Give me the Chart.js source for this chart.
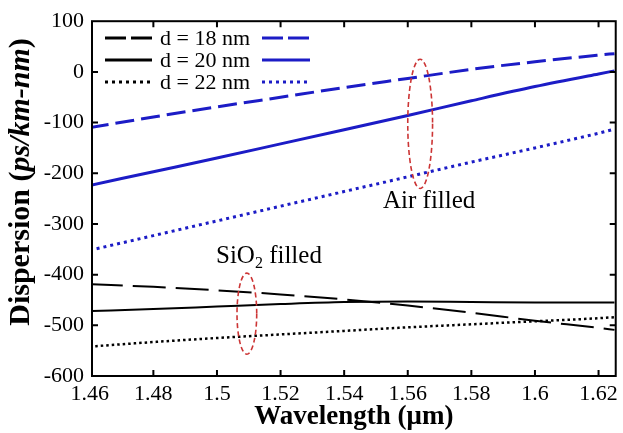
<!DOCTYPE html>
<html>
<head>
<meta charset="utf-8">
<script src="https://cdn.jsdelivr.net/npm/chart.js@4.4.1/dist/chart.umd.min.js"></script>
<style>
html,body{margin:0;padding:0;background:#fff;}
canvas{display:block;}
</style>
</head>
<body>
<canvas id="c" width="623" height="433"></canvas>
<script>
// ---- data ----
const wavelengths = [1.46, 1.48, 1.50, 1.52, 1.54, 1.56, 1.58, 1.60, 1.62, 1.625];
const air18 = [-110, -89, -69, -50, -31, -13, 5, 20, 33, 36];
const air20 = [-224, -197, -170, -142, -114, -86, -57, -29, -4, 2];
const air22 = [-352, -323, -294, -265, -236, -207, -178, -150, -121, -113];
const sio18 = [-419, -424, -431, -439, -449, -461, -475, -491, -505, -509];
const sio20 = [-472, -468, -463, -458, -454, -453, -454, -455, -455, -455];
const sio22 = [-542, -533, -525, -518, -511, -504, -498, -492, -486, -484];
const xTicks = [1.46, 1.48, 1.50, 1.52, 1.54, 1.56, 1.58, 1.60, 1.62];
const xTickLabels = ['1.46', '1.48', '1.5', '1.52', '1.54', '1.56', '1.58', '1.6', '1.62'];
const yTicks = [100, 0, -100, -200, -300, -400, -500, -600];
const legendLabels = ['d = 18 nm', 'd = 20 nm', 'd = 22 nm'];
// annotation ellipses (data coords): [centerX, halfWidthX, topY, bottomY]
const airEllipse = [1.5639, 0.0039, 25, -230];
const sioEllipse = [1.5094, 0.0031, -397, -557];

const BLUE = '#1c1cc6';
const BLACK = '#000';
const SERIF = '"Liberation Serif", "Times New Roman", serif';

function pts(ys) { return wavelengths.map((x, i) => ({x: x, y: ys[i]})); }

const dashBlue = [19, 7], dashBlack = [33, 10];
const dotBlue = [3, 4], dotBlack = [2.5, 3];

const datasets = [
  {label: 'air18', data: pts(air18), borderColor: BLUE, borderWidth: 3, borderDash: dashBlue},
  {label: 'air20', data: pts(air20), borderColor: BLUE, borderWidth: 3},
  {label: 'air22', data: pts(air22), borderColor: BLUE, borderWidth: 3, borderDash: dotBlue},
  {label: 'sio18', data: pts(sio18), borderColor: BLACK, borderWidth: 2, borderDash: dashBlack},
  {label: 'sio20', data: pts(sio20), borderColor: BLACK, borderWidth: 2},
  {label: 'sio22', data: pts(sio22), borderColor: BLACK, borderWidth: 2.5, borderDash: dotBlack}
].map(d => Object.assign({pointRadius: 0, fill: false, tension: 0.2, cubicInterpolationMode: 'monotone', borderCapStyle: 'butt'}, d));

const decor = {
  id: 'decor',
  afterDraw(chart) {
    const ctx = chart.ctx;
    const xs = chart.scales.x, ys = chart.scales.y;
    const {left, right, top, bottom} = chart.chartArea;
    ctx.save();
    // frame
    ctx.strokeStyle = '#000';
    ctx.lineWidth = 2;
    ctx.setLineDash([]);
    ctx.strokeRect(left, top, right - left, bottom - top);
    // inward ticks
    const tl = 6;
    ctx.beginPath();
    xTicks.forEach(v => {
      const p = xs.getPixelForValue(v);
      if (p > left + 2 && p < right - 2) {
        ctx.moveTo(p, bottom); ctx.lineTo(p, bottom - tl);
        ctx.moveTo(p, top); ctx.lineTo(p, top + tl);
      }
    });
    yTicks.forEach(v => {
      const p = ys.getPixelForValue(v);
      if (p > top + 2 && p < bottom - 2) {
        ctx.moveTo(left, p); ctx.lineTo(left + tl, p);
        ctx.moveTo(right, p); ctx.lineTo(right - tl, p);
      }
    });
    ctx.stroke();

    // legend
    const rows = [38, 60, 82];
    const styles = [[21, 5], [], [3, 4]];
    ctx.font = '22px ' + SERIF;
    ctx.fillStyle = '#000';
    ctx.textBaseline = 'middle';
    ctx.textAlign = 'left';
    rows.forEach((y, i) => {
      ctx.lineWidth = 3;
      ctx.setLineDash(styles[i]);
      ctx.strokeStyle = BLACK;
      ctx.beginPath(); ctx.moveTo(105, y); ctx.lineTo(152, y); ctx.stroke();
      ctx.strokeStyle = BLUE;
      ctx.beginPath(); ctx.moveTo(262, y); ctx.lineTo(310, y); ctx.stroke();
      ctx.fillText(legendLabels[i], 160, y + 1);
    });

    // ellipses
    function ell(e) {
      const cx = xs.getPixelForValue(e[0]);
      const rx = Math.abs(xs.getPixelForValue(e[0] + e[1]) - cx);
      const y1 = ys.getPixelForValue(e[2]), y2 = ys.getPixelForValue(e[3]);
      ctx.beginPath();
      ctx.ellipse(cx, (y1 + y2) / 2, rx, Math.abs(y2 - y1) / 2, 0, 0, Math.PI * 2);
      ctx.stroke();
    }
    ctx.strokeStyle = '#cc3535';
    ctx.lineWidth = 1.6;
    ctx.setLineDash([5, 3]);
    ell(airEllipse);
    ell(sioEllipse);
    ctx.setLineDash([]);

    // annotation text
    ctx.fillStyle = '#000';
    ctx.textBaseline = 'alphabetic';
    ctx.font = '25px ' + SERIF;
    ctx.fillText('Air filled', 383, 208);
    let x = 216;
    ctx.fillText('SiO', x, 263);
    x += ctx.measureText('SiO').width;
    ctx.font = '16px ' + SERIF;
    ctx.fillText('2', x, 268);
    x += ctx.measureText('2').width;
    ctx.font = '25px ' + SERIF;
    ctx.fillText(' filled', x, 263);

    // y-axis title (mixed italic)
    const parts = [['Dispersion (', 'bold 30px '], ['ps/km-nm', 'italic bold 30px '], [')', 'bold 30px ']];
    let total = 0;
    parts.forEach(p => { ctx.font = p[1] + SERIF; total += ctx.measureText(p[0]).width; });
    ctx.translate(21, 182);
    ctx.rotate(-Math.PI / 2);
    ctx.textBaseline = 'middle';
    let px = -total / 2;
    parts.forEach(p => { ctx.font = p[1] + SERIF; ctx.fillText(p[0], px, 0); px += ctx.measureText(p[0]).width; });
    ctx.restore();
  }
};

new Chart(document.getElementById('c'), {
  type: 'line',
  data: {datasets: datasets},
  options: {
    responsive: false,
    animation: false,
    devicePixelRatio: 1,
    layout: {padding: {left: 0, right: 6, top: 20, bottom: 0}},
    plugins: {legend: {display: false}, tooltip: {enabled: false}},
    scales: {
      x: {
        type: 'linear',
        min: 1.4607, max: 1.6254,
        grid: {display: false, drawTicks: false},
        border: {display: false},
        afterBuildTicks(s) { s.ticks = xTicks.map(v => ({value: v})); },
        afterFit(s) { s.height = 57; },
        ticks: {
          color: '#000', padding: 5, maxRotation: 0, autoSkip: false,
          font: {family: SERIF, size: 22},
          callback(v) { const i = xTicks.indexOf(v); return i >= 0 ? xTickLabels[i] : ''; }
        },
        title: {
          display: true, text: 'Wavelength (μm)', color: '#000',
          font: {family: SERIF, size: 27, weight: 'bold'}, padding: {top: -4, bottom: 0}
        }
      },
      y: {
        type: 'linear',
        min: -600, max: 100,
        grid: {display: false, drawTicks: false},
        border: {display: false},
        afterBuildTicks(s) { s.ticks = yTicks.map(v => ({value: v})); },
        afterFit(s) { s.width = 92; },
        ticks: {color: '#000', padding: 8, autoSkip: false, font: {family: SERIF, size: 22}}
      }
    }
  },
  plugins: [decor]
});
</script>
</body>
</html>
